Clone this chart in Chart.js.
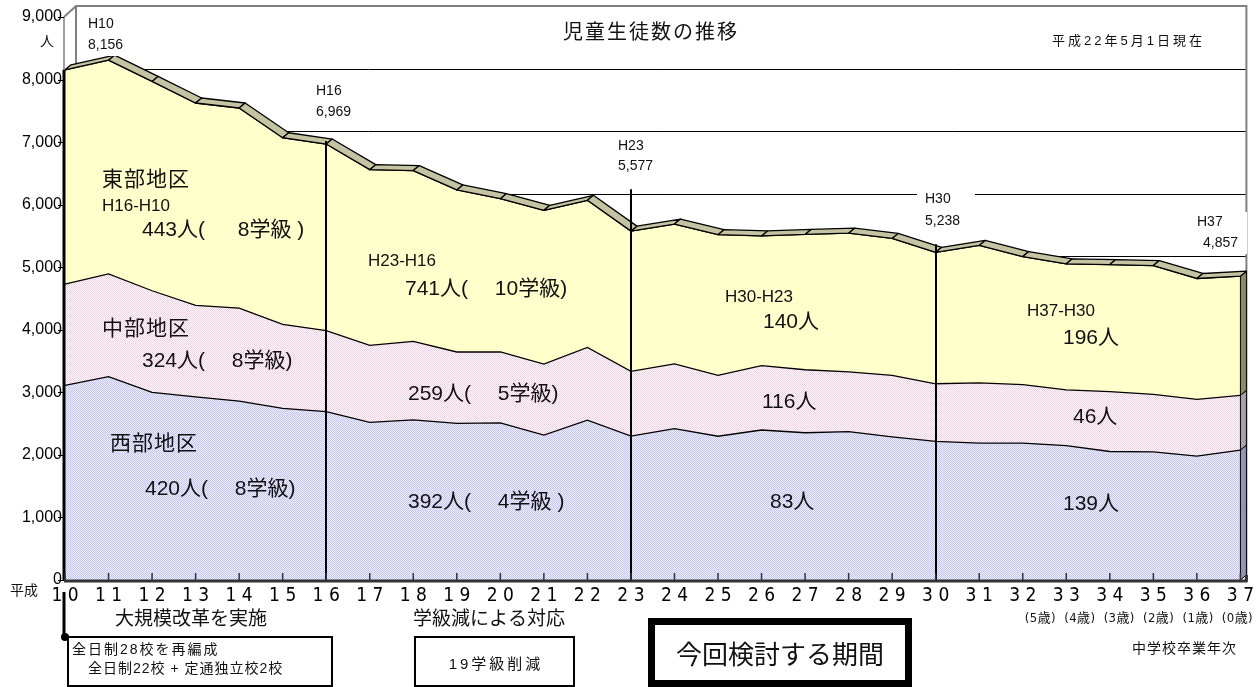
<!DOCTYPE html>
<html lang="ja">
<head>
<meta charset="utf-8">
<title>児童生徒数の推移</title>
<script src="https://cdn.jsdelivr.net/npm/chart.js@4.4.1/dist/chart.umd.min.js"></script>
<style>
  html, body { margin: 0; padding: 0; background: #fff; }
  #wrap { width: 1259px; height: 687px; }
</style>
</head>
<body>
<div id="wrap"><canvas id="chart" width="1259" height="687"></canvas></div>
<script>
// DATA (平成 years, students per district)
const years = [10, 11, 12, 13, 14, 15, 16, 17, 18, 19, 20, 21, 22, 23, 24, 25, 26, 27, 28, 29, 30, 31, 32, 33, 34, 35, 36, 37];
const west = [3111, 3250, 3000, 2927, 2860, 2744, 2691, 2521, 2560, 2505, 2512, 2315, 2555, 2299, 2420, 2298, 2398, 2354, 2371, 2287, 2216, 2187, 2187, 2148, 2054, 2048, 1981, 2077];
const central = [1620, 1642, 1624, 1464, 1486, 1341, 1296, 1230, 1255, 1140, 1133, 1135, 1162, 1037, 1036, 974, 1030, 1007, 957, 985, 921, 963, 935, 891, 957, 918, 907, 875];
const east = [3425, 3418, 3346, 3234, 3199, 2985, 2982, 2809, 2730, 2590, 2450, 2460, 2353, 2241, 2234, 2248, 2072, 2164, 2217, 2188, 2101, 2199, 2048, 2015, 2032, 2060, 1932, 1905];
const yMax = 9000;
const yStep = 1000;
const ageLabels = ["(5歳)", "(4歳)", "(3歳)", "(2歳)", "(1歳)", "(0歳)"];
const calloutYears = [10, 16, 23, 30, 37];
const markerYears = [16, 23, 30];

const totals = years.map((y, i) => west[i] + central[i] + east[i]);

// layout of the texts (pixels)
const FONT = '"Liberation Sans", "Noto Sans CJK JP", sans-serif';
const NARROW = '"Liberation Sans Narrow", "DejaVu Sans Condensed", "Liberation Sans", sans-serif';
const calloutPos = [[88, 24, 88, 45], [316, 91, 316, 112], [618, 146, 618, 166], [925, 199, 925, 221], [1197, 222, 1203, 243]];
const markerExtra = [3, 42, 8];
const regionNotes = [
  ["東部地区", 102, 180, 21, 1],
  ["H16-H10", 102, 206, 17, 0],
  ["443人(\u3000  8学級 )", 142, 230, 21, 0],
  ["中部地区", 102, 329, 21, 1],
  ["324人(\u3000 8学級)", 142, 361, 21, 0],
  ["西部地区", 110, 444, 21, 1],
  ["420人(\u3000 8学級)", 145, 489, 21, 0],
  ["H23-H16", 368, 261, 17, 0],
  ["741人(\u3000 10学級)", 405, 289, 21, 0],
  ["259人(\u3000 5学級)", 408, 394, 21, 0],
  ["392人(\u3000 4学級 )", 408, 502, 21, 0],
  ["H30-H23", 725, 297, 17, 0],
  ["140人", 763, 322, 21, 0],
  ["116人", 762, 402, 21, 0],
  ["83人", 770, 502, 21, 0],
  ["H37-H30", 1027, 311, 17, 0],
  ["196人", 1063, 338, 21, 0],
  ["46人", 1073, 417, 21, 0],
  ["139人", 1063, 504, 21, 0]
];

const canvas = document.getElementById("chart");
const c2d = canvas.getContext("2d");

function dotPattern(a, b) {
  const p = document.createElement("canvas");
  p.width = 2; p.height = 2;
  const g = p.getContext("2d");
  g.fillStyle = b; g.fillRect(0, 0, 2, 2);
  g.fillStyle = a; g.fillRect(0, 0, 1, 1); g.fillRect(1, 1, 1, 1);
  return c2d.createPattern(p, "repeat");
}
const westFill = dotPattern("#c4c4f0", "#eeeeff");
const centralFill = dotPattern("#f8cce0", "#ffffff");

function text(ctx, str, x, y, size, opts = {}) {
  ctx.save();
  ctx.font = (opts.weight || "") + " " + size + "px " + (opts.family || FONT);
  ctx.fillStyle = opts.color || "#111";
  ctx.textAlign = opts.align || "left";
  ctx.textBaseline = "middle";
  ctx.letterSpacing = (opts.spacing || 0) + "px";
  ctx.fillText(str, x, y);
  ctx.restore();
}

const DX = 6, DY = -5, WALL = 11;

const frame3d = {
  id: "frame3d",
  beforeDatasetsDraw(chart) {
    const { ctx, scales: { x, y } } = chart;
    const left = x.left, right = x.right;
    const top = y.getPixelForValue(yMax);
    ctx.save();
    // back wall gridlines
    ctx.strokeStyle = "#000";
    ctx.lineWidth = 1;
    for (let v = yStep; v < yMax; v += yStep) {
      const py = Math.round(y.getPixelForValue(v) - WALL) + 0.5;
      ctx.beginPath();
      ctx.moveTo(left + WALL, py);
      ctx.lineTo(right + DX, py);
      ctx.stroke();
    }
    // outer frame
    ctx.strokeStyle = "#808080";
    ctx.lineWidth = 2;
    ctx.beginPath();
    ctx.moveTo(left - 1, top);
    ctx.lineTo(left + WALL, top - WALL);
    ctx.lineTo(right + DX, top - WALL);
    ctx.lineTo(right + DX, y.bottom);
    ctx.moveTo(left + WALL, top - WALL);
    ctx.lineTo(left + WALL, y.bottom);
    ctx.stroke();
    ctx.restore();
  },
  afterDatasetsDraw(chart) {
    const { ctx, scales: { x, y } } = chart;
    const bottom = y.bottom;
    const pts = totals.map((t, i) => [x.getPixelForValue(i), y.getPixelForValue(t)]);
    ctx.save();

    // right side face
    const xr = pts[pts.length - 1][0];
    const last = years.length - 1;
    const bounds = [0, west[last], west[last] + central[last], totals[last]];
    const sideCols = ["#9494b4", "#aaa2aa", "#8c8c6a"];
    ctx.lineWidth = 1;
    ctx.strokeStyle = "#000";
    for (let k = 0; k < 3; k++) {
      const yb = y.getPixelForValue(bounds[k]);
      const yt = y.getPixelForValue(bounds[k + 1]);
      ctx.beginPath();
      ctx.moveTo(xr, yb);
      ctx.lineTo(xr, yt);
      ctx.lineTo(xr + DX, yt + DY);
      ctx.lineTo(xr + DX, yb + DY);
      ctx.closePath();
      ctx.fillStyle = sideCols[k];
      ctx.fill();
      ctx.stroke();
    }

    // top ribbon
    ctx.fillStyle = "#c4c4a2";
    ctx.strokeStyle = "#000";
    ctx.lineWidth = 1.3;
    ctx.lineJoin = "round";
    for (let i = 0; i < pts.length - 1; i++) {
      const [x0, y0] = pts[i], [x1, y1] = pts[i + 1];
      ctx.beginPath();
      ctx.moveTo(x0, y0);
      ctx.lineTo(x1, y1);
      ctx.lineTo(x1 + DX, y1 + DY);
      ctx.lineTo(x0 + DX, y0 + DY);
      ctx.closePath();
      ctx.fill();
      ctx.stroke();
    }

    // period markers
    ctx.strokeStyle = "#000";
    ctx.lineWidth = 2;
    markerYears.forEach((yr, k) => {
      const i = years.indexOf(yr);
      const px = Math.round(pts[i][0]);
      ctx.beginPath();
      ctx.moveTo(px, pts[i][1] - markerExtra[k]);
      ctx.lineTo(px, bottom);
      ctx.stroke();
    });

    // left axis: thick edge of the area, thin grey above it
    ctx.strokeStyle = "#808080";
    ctx.lineWidth = 1.5;
    ctx.beginPath();
    ctx.moveTo(x.left - 1, y.getPixelForValue(yMax));
    ctx.lineTo(x.left - 1, pts[0][1]);
    ctx.stroke();
    ctx.strokeStyle = "#000";
    ctx.lineWidth = 3;
    ctx.beginPath();
    ctx.moveTo(x.left - 1, pts[0][1]);
    ctx.lineTo(x.left - 1, bottom + 1);
    ctx.stroke();
    ctx.lineWidth = 1;
    for (let v = 0; v <= yMax; v += yStep) {
      const py = Math.round(y.getPixelForValue(v)) + 0.5;
      ctx.beginPath();
      ctx.moveTo(x.left - 7, py);
      ctx.lineTo(x.left - 1, py);
      ctx.stroke();
    }

    // floor line and category ticks
    ctx.strokeStyle = "#333";
    ctx.lineWidth = 3;
    ctx.beginPath();
    ctx.moveTo(x.left - 1, bottom + 1);
    ctx.lineTo(xr + DX, bottom + 1);
    ctx.lineTo(xr + DX, bottom + DY);
    ctx.stroke();
    ctx.lineWidth = 1.5;
    pts.forEach(([px]) => {
      ctx.beginPath();
      ctx.moveTo(px, bottom);
      ctx.lineTo(px, bottom - 7);
      ctx.stroke();
    });
    ctx.restore();
  },
  afterDraw(chart) {
    const { ctx } = chart;

    // title and date
    text(ctx, "児童生徒数の推移", 651, 33, 20, { align: "center", spacing: 2 });
    text(ctx, "平成22年5月1日現在", 1052, 41, 13, { spacing: 3 });
    text(ctx, "人", 47, 42, 14, { align: "center" });

    // callouts
    calloutYears.forEach((yr, k) => {
      const i = years.indexOf(yr);
      const [hx, hy, vx, vy] = calloutPos[k];
      ctx.save();
      ctx.fillStyle = "#fff";
      ctx.fillRect(hx - 8, hy - 10, 58, vy - hy + 21);
      ctx.restore();
      text(ctx, "H" + yr, hx, hy, 14);
      text(ctx, totals[i].toLocaleString("en-US"), vx, vy, 14);
    });

    // district notes
    regionNotes.forEach(([s, px, py, size, sp]) => text(ctx, s, px, py, size, { spacing: sp }));

    // bottom axis extras
    text(ctx, "平成", 10, 591, 14);
    text(ctx, ageLabels.join("  "), 1253, 619, 13, { align: "right", spacing: 0.4, family: NARROW + ', "Noto Sans CJK JP"' });
    text(ctx, "中学校卒業年次", 1132, 649, 14, { spacing: 1 });

    // reform notes
    ctx.save();
    ctx.strokeStyle = "#000";
    ctx.fillStyle = "#000";
    ctx.lineWidth = 3;
    ctx.beginPath();
    ctx.moveTo(64, 592);
    ctx.lineTo(64, 637);
    ctx.stroke();
    ctx.beginPath();
    ctx.arc(65, 637, 4, 0, Math.PI * 2);
    ctx.fill();
    ctx.lineWidth = 2;
    ctx.strokeRect(68, 637, 264, 49);
    ctx.strokeRect(415, 637, 159, 49);
    ctx.lineWidth = 7;
    ctx.strokeRect(651.5, 621.5, 257, 62);
    ctx.restore();

    text(ctx, "大規模改革を実施", 115, 620, 19);
    text(ctx, "全日制28校を再編成", 72, 650, 14, { spacing: 2 });
    text(ctx, "全日制22校 + 定通独立校2校", 88, 669, 14, { spacing: 1 });
    text(ctx, "学級減による対応", 413, 620, 19);
    text(ctx, "19学級削減", 496, 665, 15, { align: "center", spacing: 3 });
    text(ctx, "今回検討する期間", 780, 657, 26, { align: "center" });
  }
};

const chart = new Chart(canvas, {
  type: "line",
  data: {
    labels: years.map(String),
    datasets: [
      { label: "西部地区", data: west, fill: "origin", backgroundColor: westFill, borderColor: "#000", borderWidth: 1.3, pointRadius: 0, tension: 0 },
      { label: "中部地区", data: central, fill: "-1", backgroundColor: centralFill, borderColor: "#000", borderWidth: 1.3, pointRadius: 0, tension: 0 },
      { label: "東部地区", data: east, fill: "-1", backgroundColor: "#ffffcc", borderColor: "#000", borderWidth: 1.3, pointRadius: 0, tension: 0 }
    ]
  },
  options: {
    responsive: false,
    animation: false,
    events: [],
    layout: { padding: { top: 17, right: 16, left: 0, bottom: 0 } },
    plugins: {
      legend: { display: false },
      tooltip: { enabled: false }
    },
    scales: {
      x: {
        type: "category",
        offset: false,
        grid: { display: false, drawTicks: false },
        border: { display: false },
        ticks: {
          autoSkip: false,
          maxRotation: 0,
          minRotation: 0,
          padding: 5,
          color: "#000",
          font: { size: 19, family: NARROW },
          callback: (v, i) => String(years[i]).split("").join(" ")
        },
        afterFit: (s) => { s.height = 107; }
      },
      y: {
        stacked: true,
        min: 0,
        max: yMax,
        grid: { display: false, drawTicks: false },
        border: { display: false },
        ticks: {
          stepSize: yStep,
          padding: 3,
          color: "#000",
          font: { size: 16, family: FONT },
          callback: (v) => v.toLocaleString("en-US")
        },
        afterFit: (s) => { s.width = 65; }
      }
    }
  },
  plugins: [frame3d]
});
</script>
</body>
</html>
